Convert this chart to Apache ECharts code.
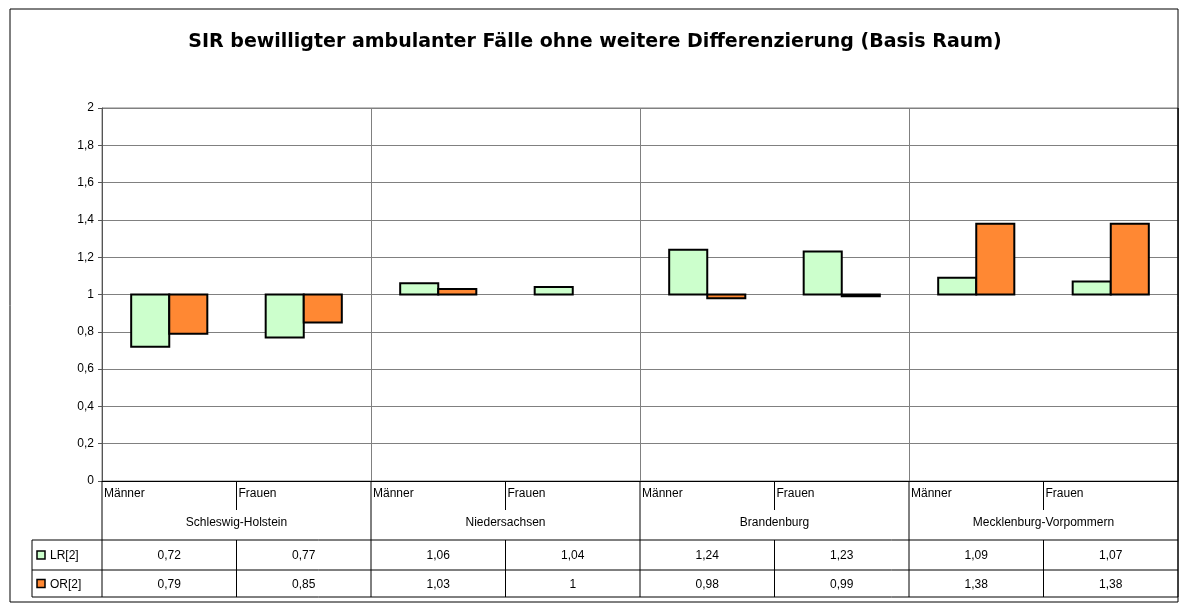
<!DOCTYPE html>
<html>
<head>
<meta charset="utf-8">
<script src="https://cdn.jsdelivr.net/npm/echarts@6/dist/echarts.min.js"></script>
<style>
  html, body { margin: 0; padding: 0; background: #fff; }
  #chart { width: 1190px; height: 612px; }
</style>
</head>
<body>
<div id="chart"></div>
<script>
// data
const states = ['Schleswig-Holstein', 'Niedersachsen', 'Brandenburg', 'Mecklenburg-Vorpommern']
const sexes = ['Männer', 'Frauen']
const categories = ['SH-M', 'SH-F', 'NI-M', 'NI-F', 'BB-M', 'BB-F', 'MV-M', 'MV-F']
const lr = [0.72, 0.77, 1.06, 1.04, 1.24, 1.23, 1.09, 1.07]
const or = [0.79, 0.85, 1.03, 1, 0.98, 0.99, 1.38, 1.38]
const seriesNames = ['LR[2]', 'OR[2]']
const yTicks = [0, 0.2, 0.4, 0.6, 0.8, 1, 1.2, 1.4, 1.6, 1.8, 2]
const BASE = 1

const colors = ['#ccffcc', '#ff8833']
const font = '"Liberation Sans", Arial, sans-serif'

const fmt = v => String(+(+v).toFixed(2)).replace('.', ',')

const GRID = { left: 102, right: 12, top: 108, bottom: 131 }

const chart = echarts.init(document.getElementById('chart'))

function barRenderer(k) {
  return function (params, api) {
    const cat = api.value(0)
    const v = api.value(1)
    const top = api.coord([cat, v])
    const base = api.coord([cat, BASE])
    const h = Math.abs(top[1] - base[1])
    if (h < 0.5) return null
    const bw = api.size([1, 0])[0] * 0.283
    const x = top[0] + (k === 0 ? -bw : 0)
    return {
      type: 'rect',
      shape: { x: x, y: Math.min(top[1], base[1]), width: bw, height: h },
      style: { fill: colors[k], stroke: '#000', lineWidth: 2 }
    }
  }
}

chart.setOption({
  animation: false,
  textStyle: { fontFamily: font },
  title: {
    text: 'SIR bewilligter ambulanter Fälle ohne weitere Differenzierung (Basis Raum)',
    left: 'center',
    top: 28,
    textStyle: { fontSize: 19, fontWeight: 'bold', color: '#000', fontFamily: '"DejaVu Sans", sans-serif' }
  },
  grid: Object.assign({ show: true, borderColor: '#808080', borderWidth: 1 }, GRID),
  xAxis: {
    type: 'category',
    data: categories,
    axisLine: { lineStyle: { color: '#000', width: 1 } },
    axisTick: { show: false },
    axisLabel: { show: false },
    splitLine: { show: true, interval: 1, lineStyle: { color: '#808080', width: 1 } }
  },
  yAxis: {
    type: 'value',
    min: yTicks[0],
    max: yTicks[yTicks.length - 1],
    interval: 0.2,
    axisLine: { show: true, lineStyle: { color: '#555', width: 1 } },
    axisTick: { show: true, length: 4, lineStyle: { color: '#555' } },
    axisLabel: { color: '#000', fontSize: 12, margin: 8, formatter: v => fmt(v) },
    splitLine: { lineStyle: { color: '#808080', width: 1 } }
  },
  series: [
    { name: seriesNames[0], type: 'custom', renderItem: barRenderer(0), data: lr.map((v, i) => [i, v]), z: 3 },
    { name: seriesNames[1], type: 'custom', renderItem: barRenderer(1), data: or.map((v, i) => [i, v]), z: 3 }
  ]
})

// data table below the plot
function buildTable() {
  const els = []
  const plotTop = chart.convertToPixel({ yAxisIndex: 0 }, 2)
  const axisY = chart.convertToPixel({ yAxisIndex: 0 }, 0)
  const c0 = chart.convertToPixel({ xAxisIndex: 0 }, 0)
  const c1 = chart.convertToPixel({ xAxisIndex: 0 }, 1)
  const cw = c1 - c0
  const left = c0 - cw / 2
  const right = left + cw * categories.length
  const row1 = axisY + 59, row2 = row1 + 30, row3 = row2 + 27
  const tableLeft = 32
  const line = (x1, y1, x2, y2, color) => els.push({
    type: 'line', silent: true, z: 10,
    shape: { x1: x1, y1: y1, x2: x2, y2: y2 },
    style: { stroke: color || '#000', lineWidth: 1 }
  })
  const text = (x, y, t, align) => els.push({
    type: 'text', silent: true, z: 10, x: x, y: y,
    style: { text: t, fill: '#000', font: '12px ' + font, align: align || 'center', verticalAlign: 'middle' }
  })

  // outer border
  els.push({ type: 'rect', silent: true, shape: { x: 10, y: 9, width: 1168, height: 593 }, style: { fill: null, stroke: '#000', lineWidth: 1 } })

  // left axis continuation and right edge
  line(left, axisY, left, row3)
  line(right, plotTop, right, row3, '#000')
  // horizontal lines
  line(tableLeft, row1, right, row1)
  line(tableLeft, row2, right, row2)
  line(tableLeft, row3, right, row3)
  line(tableLeft, row1, tableLeft, row3)

  for (let i = 0; i < categories.length; i++) {
    const cx = left + cw * (i + 0.5)
    const bx = left + cw * i
    if (i > 0) {
      if (i % 2 === 0) line(bx, axisY, bx, row3)
      else { line(bx, axisY, bx, axisY + 29); line(bx, row1, bx, row3) }
    }
    text(bx + 2, axisY + 13, sexes[i % 2], 'left')
    text(cx, (row1 + row2) / 2 + 1, fmt(lr[i]))
    text(cx, (row2 + row3) / 2 + 1, fmt(or[i]))
  }
  states.forEach((s, j) => text(left + cw * (2 * j + 1), axisY + 42, s))

  // legend keys
  ;[row1, row2].forEach((ry, k) => {
    const my = ry + (k === 0 ? 15 : 13.5)
    els.push({ type: 'rect', silent: true, z: 10, shape: { x: 37, y: my - 4, width: 8, height: 8 },
      style: { fill: colors[k], stroke: '#000', lineWidth: 1.5 } })
    text(50, my + 1, seriesNames[k], 'left')
  })
  chart.setOption({ graphic: els })
}
buildTable()
</script>
</body>
</html>
